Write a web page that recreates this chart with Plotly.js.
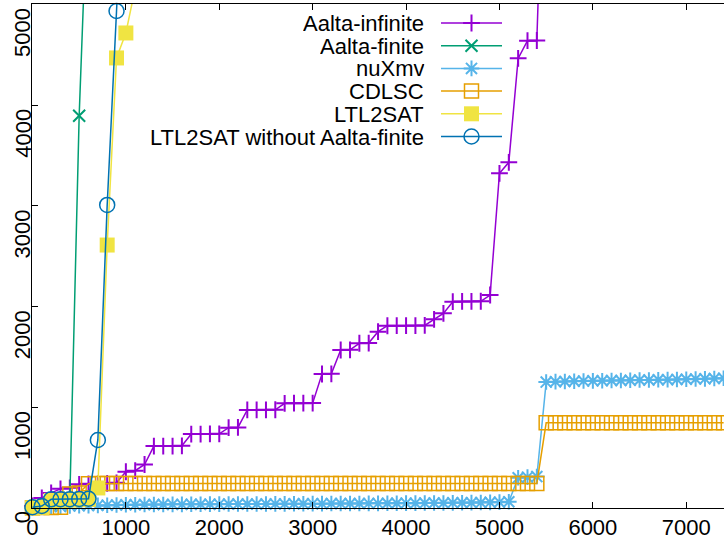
<!DOCTYPE html>
<html>
<head>
<meta charset="utf-8">
<script src="https://cdn.plot.ly/plotly-3.0.1.min.js"></script>
<style>html,body{margin:0;padding:0;background:#fff}#chart{width:724px;height:543px}</style>
</head>
<body>
<div id="chart"></div>
<script>
// Solved-instance positions (x) shared by all series, sampled every 100 instances
const instances = [0,100,200,300,400,500,600,700,800,900,1000,1100,1200,1300,1400,1500,1600,1700,1800,1900,
  2000,2100,2200,2300,2400,2500,2600,2700,2800,2900,3000,3100,3200,3300,3400,3500,3600,3700,3800,3900,
  4000,4100,4200,4300,4400,4500,4600,4700,4800,4900,5000,5100,5200,5300,5400,5500,5600,5700,5800,5900,
  6000,6100,6200,6300,6400,6500,6600,6700,6800,6900,7000,7100,7200,7300,7400];

const seriesNames = ["Aalta-infinite","Aalta-finite","nuXmv","CDLSC","LTL2SAT","LTL2SAT without Aalta-finite"];

const aaltaInfinite = [20,100,150,190,200,235,240,240,245,250,360,370,432,615,615,615,617,734,734,735,
  736,797,800,973,973,974,975,1039,1040,1040,1041,1330,1332,1568,1570,1635,1637,1750,1809,1810,
  1810,1811,1812,1873,1932,2048,2050,2050,2052,2114,3322,3431,4463,4638,4640,7500];

const aaltaFinite = [5,15,30,55,100,3894,6380];

const nuxmv = [8,10,14,16,20,22,24,26,28,30,32,33,34,35,35,36,36,37,37,38,
  38,39,39,40,40,40,41,41,42,42,43,43,44,44,45,45,46,46,47,47,
  48,48,49,50,50,51,52,53,54,56,58,62,300,306,312,1250,1254,1256,1258,1260,
  1262,1263,1265,1266,1268,1270,1271,1273,1274,1276,1278,1280,1282,1285,1288];

const cdlsc = [3,4,5,8,140,150,240,242,243,243,243,244,244,244,244,244,244,244,244,244,
  244,244,244,244,244,244,244,244,244,244,244,244,244,244,244,244,244,244,244,244,
  244,244,244,244,244,244,244,244,244,244,244,244,244,244,244,846,846,846,846,846,
  846,846,846,846,846,846,846,846,846,846,846,846,846,846,846];

const ltl2sat = [2,6,75,78,80,82,86,199,2610,4467,4715,5160];

const ltl2satNoAF = [7,20,86,87,88,89,92,675,3008,4933,7000];

const xTickVals = [0,1000,2000,3000,4000,5000,6000,7000];
const xTickLabels = ["0","1000","2000","3000","4000","5000","6000","7000"];
const yTickVals = [0,1000,2000,3000,4000,5000];
const yTickLabels = ["0","1000","2000","3000","4000","5000"];

// styling
const FONT = "Liberation Sans, Arial, Helvetica, sans-serif";
const FS = 22;
const styles = [
  {color:"#9400d3", symbol:"cross-thin-open", size:12, mlw:2},
  {color:"#009e73", symbol:"x-thin-open", size:12, mlw:2},
  {color:"#56b4e9", symbol:"asterisk-open", size:13, mlw:2},
  {color:"#e69f00", symbol:"square-open", size:14, mlw:1.5},
  {color:"#f0e442", symbol:"square", size:15, mlw:0},
  {color:"#0072b2", symbol:"circle-open", size:15, mlw:1.5}
];
const values = [aaltaInfinite, aaltaFinite, nuxmv, cdlsc, ltl2sat, ltl2satNoAF];

const traces = values.map((v, i) => ({
  type: "scatter", mode: "lines+markers",
  x: instances.slice(0, v.length), y: v,
  name: seriesNames[i],
  cliponaxis: false,
  line: {color: styles[i].color, width: 1.5},
  marker: {symbol: styles[i].symbol, size: styles[i].size, color: styles[i].color,
           line: {color: styles[i].color, width: styles[i].mlw}},
  xaxis: "x", yaxis: "y", hoverinfo: "skip"
}));

// custom gnuplot-like legend (text left, sample right) on a pixel-coordinate overlay axis
const L = {textRight: 425, lineL: 441, lineR: 502, top: 23, step: 22.7};
const annotations = [];
seriesNames.forEach((n, i) => {
  const yy = L.top + i * L.step;
  traces.push({type:"scatter", mode:"lines", x:[L.lineL, L.lineR], y:[yy, yy],
    xaxis:"x2", yaxis:"y2", line:{color:styles[i].color, width:1.5}, hoverinfo:"skip", showlegend:false});
  traces.push({type:"scatter", mode:"markers", x:[(L.lineL + L.lineR) / 2], y:[yy],
    xaxis:"x2", yaxis:"y2", hoverinfo:"skip", showlegend:false,
    marker:{symbol:styles[i].symbol, size:styles[i].size, color:styles[i].color,
            line:{color:styles[i].color, width:styles[i].mlw}}});
  annotations.push({xref:"x2", yref:"y2", x:L.textRight, y:yy, text:n, showarrow:false,
    xanchor:"right", yanchor:"middle", height:20, valign:"middle", borderpad:0,
    font:{family:FONT, size:FS, color:"#000"}});
});

// rotated y tick labels, gnuplot style: text ends at the tick and runs downward
yTickVals.forEach((v, i) => {
  annotations.push({xref:"paper", yref:"y", x:-0.0135, y:v, text:yTickLabels[i], showarrow:false,
    textangle:-90, xanchor:"center", yanchor:"top", yshift:-2.5, borderpad:0,
    font:{family:FONT, size:FS, color:"#000"}});
});

const layout = {
  width: 724, height: 543,
  margin: {l: 32, r: 0, t: 4, b: 35, pad: 0},
  paper_bgcolor: "#fff", plot_bgcolor: "#fff",
  showlegend: false,
  font: {family: FONT, size: FS, color: "#000"},
  xaxis: {
    range: [-5, 7404], tickmode: "array", tickvals: xTickVals, ticktext: xTickLabels,
    ticks: "inside", ticklen: 6, tickwidth: 1, tickcolor: "#000",
    showline: true, linecolor: "#000", linewidth: 1, mirror: "ticks",
    showgrid: false, zeroline: false,
    tickfont: {family: FONT, size: FS, color: "#000"}
  },
  yaxis: {
    range: [0, 5002.5], tickmode: "array", tickvals: yTickVals, showticklabels: false,
    ticks: "inside", ticklen: 6, tickwidth: 1, tickcolor: "#000",
    showline: true, linecolor: "#000", linewidth: 1, mirror: false,
    showgrid: false, zeroline: false
  },
  xaxis2: {overlaying: "x", anchor: "y2", range: [32, 724], visible: false, fixedrange: true},
  yaxis2: {overlaying: "y", anchor: "x2", range: [508, 4], visible: false, fixedrange: true},
  annotations: annotations
};

Plotly.newPlot("chart", traces, layout, {staticPlot: true, displayModeBar: false});
</script>
</body>
</html>
